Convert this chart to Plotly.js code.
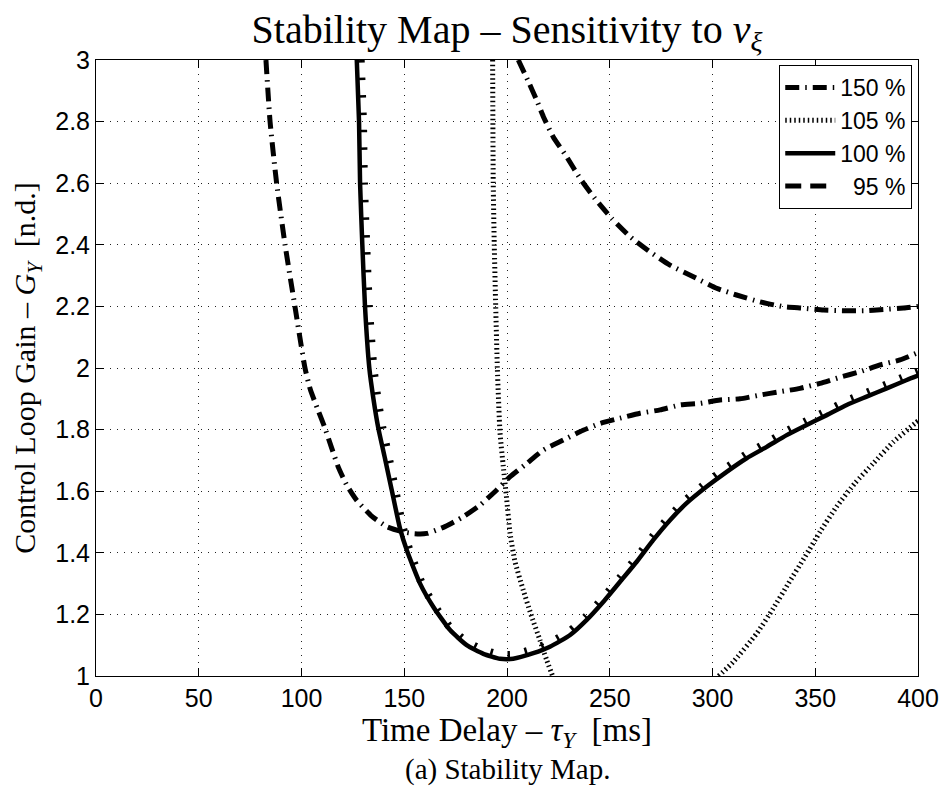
<!DOCTYPE html>
<html>
<head>
<meta charset="utf-8">
<script src="https://cdn.plot.ly/plotly-3.0.1.min.js"></script>
<style>html,body{margin:0;padding:0;background:#fff;}#chart{width:943px;height:795px;}</style>
</head>
<body>
<div id="chart"></div>
<script>
// 150 % – left branch (dash-dot)
const x150a = [82.7, 84.7, 87.9, 92, 96.8, 101.7, 104.3, 108, 111.4, 114.7, 117.8, 122, 126.8, 134, 141.5, 149.4, 155, 161, 169.8, 178.7, 186.9, 195, 201.5, 209.6, 217.7, 227.4, 235.5, 245.3, 255, 264.7, 274.5, 284.2, 294, 303.6, 313.4, 323, 332.8, 342.6, 352.3, 362, 371.8, 381.5, 391.2, 400];
const y150a = [3, 2.8, 2.6, 2.4, 2.2, 2.0, 1.93, 1.864, 1.805, 1.74, 1.68, 1.62, 1.571, 1.52, 1.485, 1.468, 1.462, 1.463, 1.485, 1.517, 1.555, 1.604, 1.647, 1.69, 1.734, 1.766, 1.793, 1.82, 1.837, 1.853, 1.864, 1.88, 1.885, 1.896, 1.90, 1.912, 1.923, 1.934, 1.95, 1.97, 1.988, 2.01, 2.026, 2.05];
// 150 % – upper branch (dash-dot)
const x150b = [205.5, 210.4, 214.4, 217.7, 222.5, 229, 235.5, 242.8, 250.9, 260, 269.6, 279.3, 290.7, 302, 311.7, 323, 334.5, 344.2, 354, 363.7, 373.5, 383.1, 393, 400];
const y150b = [3, 2.93, 2.87, 2.816, 2.75, 2.686, 2.616, 2.55, 2.486, 2.426, 2.377, 2.334, 2.296, 2.259, 2.237, 2.215, 2.199, 2.194, 2.188, 2.186, 2.186, 2.19, 2.195, 2.2];
// 105 % – near-vertical branch (dotted)
const x105a = [193, 193.3, 193.8, 194.5, 195.3, 196.6, 198.2, 199.8, 201.5, 203.9, 207.9, 212, 216, 219.3, 225];
const y105a = [3, 2.6, 2.4, 2.2, 2.0, 1.79, 1.68, 1.577, 1.463, 1.371, 1.279, 1.193, 1.117, 1.052, 0.95];
// 105 % – rising right branch (dotted)
const x105b = [303, 310, 321.5, 329.6, 336.9, 345, 352.3, 360.4, 369.3, 378.2, 388, 398.5, 400];
const y105b = [1.0, 1.045, 1.138, 1.22, 1.30, 1.387, 1.468, 1.55, 1.626, 1.69, 1.76, 1.82, 1.828];
// 100 % (solid)
const x100 = [126.9, 128, 128.5, 129.6, 130.9, 133, 135, 137.4, 140.6, 143.9, 147.9, 151.2, 157.7, 164.1, 172.3, 180.4, 188.5, 196.6, 203, 212.8, 220.9, 230.7, 238.8, 246.9, 255, 263.1, 271.2, 279.3, 287.4, 297.2, 306.9, 316.6, 326.4, 336.1, 345.8, 355.6, 365.3, 375, 384.8, 394.5, 400];
const y100 = [3, 2.8, 2.6, 2.4, 2.2, 2.0, 1.9, 1.804, 1.707, 1.604, 1.48, 1.409, 1.30, 1.225, 1.149, 1.10, 1.072, 1.056, 1.056, 1.074, 1.095, 1.133, 1.182, 1.241, 1.306, 1.371, 1.442, 1.506, 1.561, 1.615, 1.663, 1.707, 1.744, 1.782, 1.815, 1.847, 1.88, 1.907, 1.934, 1.961, 1.975];
// 95 % (dashed, lying just outside the 100 % curve)
const x95 = [128.8, 129.9, 130.4, 131.5, 132.8, 135, 137, 139.4, 142.5, 145.6, 149.4, 152.5, 158.6, 164.7, 172.6, 180.5, 188.5, 196.6, 203, 212.8, 220.9, 230.7, 238.8, 246.9, 255, 263.1, 271.2, 279.3, 287.4, 297.2, 306.9, 316.6, 326.4, 336.1, 345.8, 355.6, 365.3, 375, 384.8, 394.5, 400];
const y95 = [3, 2.8, 2.6, 2.4, 2.2, 2.0, 1.9, 1.804, 1.707, 1.604, 1.48, 1.409, 1.30, 1.228, 1.155, 1.11, 1.084, 1.069, 1.069, 1.087, 1.108, 1.146, 1.195, 1.254, 1.319, 1.384, 1.455, 1.519, 1.574, 1.628, 1.676, 1.72, 1.757, 1.795, 1.828, 1.86, 1.893, 1.92, 1.947, 1.974, 1.988];

const seriesNames = ['150 %', '105 %', '100 %', '\u200795 %'];
const xTicks = [0, 50, 100, 150, 200, 250, 300, 350, 400];
const yTicks = [1, 1.2, 1.4, 1.6, 1.8, 2, 2.2, 2.4, 2.6, 2.8, 3];

const serif = 'Liberation Serif, DejaVu Serif, serif';
const sans = 'Liberation Sans, Arial, sans-serif';

function tr(x, y, name, group, rank, show, line) {
  return {x: x, y: y, type: 'scatter', mode: 'lines', name: name, legendgroup: group,
          legendrank: rank, showlegend: show,
          line: Object.assign({color: '#000', shape: 'spline', smoothing: 0.5}, line),
          hoverinfo: 'skip'};
}
const dashDotStyle = {width: 5, dash: '14px,6px,1.5px,6px'};
const dotStyle = {width: 5, dash: '1.5px,3px'};
const dashStyle = {width: 5, dash: '16px,9px'};
const tickStyle = {width: 8, dash: '2.5px,15px'};
const solidStyle = {width: 4.5};

const traces = [
  // 95 %: the curve itself (peeking out from under the 100 % line) ...
  tr(x95, y95, seriesNames[3], 'g95', 4, false, tickStyle),
  // ... and its legend sample
  tr([null], [null], seriesNames[3], 'g95', 4, true, dashStyle),
  tr(x150a, y150a, seriesNames[0], 'g150', 1, true, dashDotStyle),
  tr(x150b, y150b, seriesNames[0], 'g150', 1, false, dashDotStyle),
  tr(x105a, y105a, seriesNames[1], 'g105', 2, true, dotStyle),
  tr(x105b, y105b, seriesNames[1], 'g105', 2, false, dotStyle),
  tr(x100, y100, seriesNames[2], 'g100', 3, true, solidStyle)
];

const axisCommon = {
  showline: true, linecolor: '#000', linewidth: 1, mirror: 'ticks',
  ticks: 'inside', ticklen: 8, tickcolor: '#000', tickwidth: 1,
  showgrid: true, gridcolor: '#222', griddash: '1px,6px', gridwidth: 1,
  zeroline: false, tickfont: {family: sans, size: 25, color: '#000'},
  automargin: false
};

const layout = {
  width: 943, height: 795,
  margin: {l: 96, r: 25, t: 60, b: 119},
  paper_bgcolor: '#fff', plot_bgcolor: '#fff',
  title: {text: 'Stability Map \u2013 Sensitivity to <i>\u03bd</i><sub><i>\u03be</i></sub>',
          font: {family: serif, size: 40, color: '#000'},
          x: 0.5, xref: 'paper', xanchor: 'center', y: 0.964, yref: 'container', yanchor: 'middle'},
  xaxis: Object.assign({}, axisCommon, {
    range: [0, 400], tickvals: xTicks, ticktext: xTicks.map(String),
    title: {text: 'Time Delay \u2013 <i>\u03c4</i><sub><i>Y</i></sub>  [ms]', font: {family: serif, size: 33, color: '#000'}, standoff: 6}
  }),
  yaxis: Object.assign({}, axisCommon, {
    range: [1, 3], tickvals: yTicks, ticktext: yTicks.map(String),
    title: {text: 'Control Loop Gain \u2013 <i>G</i><sub><i>Y</i></sub>  [n.d.]', font: {family: serif, size: 30, color: '#000'}, standoff: 10}
  }),
  legend: {x: 0.993, y: 0.992, xanchor: 'right', yanchor: 'top', bgcolor: '#fff',
           bordercolor: '#000', borderwidth: 1, font: {family: sans, size: 23, color: '#000'},
           itemwidth: 50, traceorder: 'normal'},
  annotations: [{text: '(a) Stability Map.', xref: 'paper', yref: 'paper', x: 0.5, y: -0.152,
                 xanchor: 'center', yanchor: 'middle', showarrow: false,
                 font: {family: serif, size: 29, color: '#000'}}],
  showlegend: true
};

Plotly.newPlot('chart', traces, layout, {displayModeBar: false, staticPlot: true});
</script>
</body>
</html>
